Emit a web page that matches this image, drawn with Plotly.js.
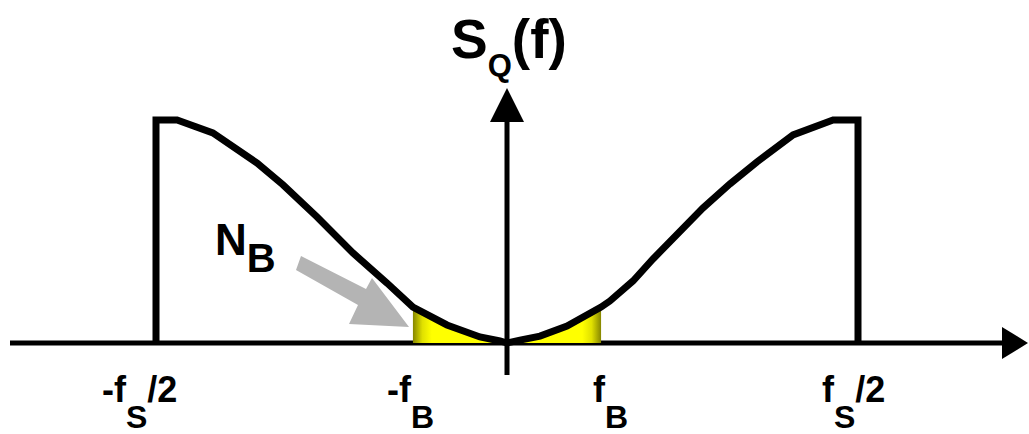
<!DOCTYPE html>
<html>
<head>
<meta charset="utf-8">
<script src="https://cdn.plot.ly/plotly-3.0.1.min.js"></script>
<style>html,body{margin:0;padding:0;background:#fff;}#chart{width:1029px;height:434px;}</style>
</head>
<body>
<div id="chart"></div>
<script>
// Frequency in units of fs/2, spectrum normalised to its peak
const curveF = [-1, -1, -0.940, -0.838, -0.712, -0.638, -0.541, -0.439, -0.342, -0.268, -0.171, -0.077, -0.020, 0,
                0.037, 0.094, 0.171, 0.245, 0.268, 0.293, 0.359, 0.416, 0.473, 0.521, 0.558, 0.635, 0.712, 0.815, 0.929, 1, 1];
const curveS = [0, 1, 1, 0.942, 0.807, 0.709, 0.565, 0.404, 0.269, 0.161, 0.081, 0.027, 0.009, 0,
                0.013, 0.031, 0.076, 0.135, 0.161, 0.188, 0.278, 0.377, 0.469, 0.552, 0.605, 0.713, 0.812, 0.933, 1, 1, 0];
const fB = 0.268;
const tickF = [-1, -fB, fB, 1];
const sub = (t, size, shift) => '<sub><span style="font-size:' + size + 'px;baseline-shift:-' + shift + 'px">' + t + '</span></sub>';
const tickLabels = ['-f' + sub('S', 32, 18) + '/2', '-f' + sub('B', 32, 18), 'f' + sub('B', 32, 18), 'f' + sub('S', 32, 18) + '/2'];
const tickShift = [-17, -2, 9, -5];
const yTitle = 'S' + sub('Q', 31, 6) + '(f)';
const bandLabel = 'N' + sub('B', 40, 8);

const W = 1029, H = 434;
const px = x => x / W;
const py = y => 1 - y / H;
const path = pts => pts.map((p, i) => (i ? 'L ' : 'M ') + px(p[0]) + ' ' + py(p[1])).join(' ') + ' Z';

const leftF = [], leftS = [], rightF = [], rightS = [];
curveF.forEach((f, i) => {
  if (f >= -fB && f <= 0) { leftF.push(f); leftS.push(curveS[i]); }
  if (f >= 0 && f <= fB) { rightF.push(f); rightS.push(curveS[i]); }
});

const font = {family: 'Liberation Sans, Arial, sans-serif', color: '#000', weight: 700};

const traces = [
  {x: leftF, y: leftS, type: 'scatter', mode: 'none', fill: 'tozeroy',
   fillgradient: {type: 'horizontal', start: -fB, stop: 0,
     colorscale: [[0, '#868600'], [0.1, '#e0e000'], [0.2, '#ffff00'], [1, '#ffff00']]},
   fillcolor: '#f0f000', hoverinfo: 'skip'},
  {x: rightF, y: rightS, type: 'scatter', mode: 'none', fill: 'tozeroy',
   fillgradient: {type: 'horizontal', start: 0, stop: fB,
     colorscale: [[0, '#ffff00'], [0.8, '#ffff00'], [0.9, '#e0e000'], [1, '#868600']]},
   fillcolor: '#f0f000', hoverinfo: 'skip'},
  {x: curveF, y: curveS, type: 'scatter', mode: 'lines',
   line: {color: '#000', width: 7}, hoverinfo: 'skip'}
];

const annotations = tickF.map((f, i) => ({
  x: f, y: py(367), xref: 'x', yref: 'paper', xshift: tickShift[i],
  text: tickLabels[i], showarrow: false, xanchor: 'center', yanchor: 'top',
  font: Object.assign({}, font, {size: 36})
}));
annotations.push({x: 0, y: py(85), xref: 'x', yref: 'paper', xshift: 2,
  text: yTitle, showarrow: false, xanchor: 'center', yanchor: 'bottom',
  font: Object.assign({}, font, {size: 55})});
annotations.push({x: px(245), y: py(282), xref: 'paper', yref: 'paper',
  text: bandLabel, showarrow: false, xanchor: 'center', yanchor: 'bottom',
  font: Object.assign({}, font, {size: 44})});

const shapes = [
  {type: 'path', xref: 'paper', yref: 'paper', layer: 'below',
   path: path([[301, 256], [366, 289], [372, 278], [409, 327], [349, 324], [358, 305], [296, 270]]),
   fillcolor: '#b4b4b4', line: {width: 0}},
  {type: 'line', xref: 'paper', yref: 'paper', layer: 'below',
   x0: px(10), x1: px(1004), y0: py(343), y1: py(343), line: {color: '#000', width: 5}},
  {type: 'path', xref: 'paper', yref: 'paper', layer: 'below',
   path: path([[1002, 327], [1028, 343], [1002, 359]]), fillcolor: '#000', line: {width: 0}},
  {type: 'line', xref: 'paper', yref: 'paper', layer: 'below',
   x0: px(507), x1: px(507), y0: py(375), y1: py(120), line: {color: '#000', width: 5}},
  {type: 'path', xref: 'paper', yref: 'paper', layer: 'below',
   path: path([[490, 122], [507, 88], [524, 122]]), fillcolor: '#000', line: {width: 0}}
];

const layout = {
  width: W, height: H, margin: {l: 0, r: 0, t: 0, b: 0},
  paper_bgcolor: '#fff', plot_bgcolor: '#fff', showlegend: false,
  xaxis: {range: [-507 / 351, 522 / 351], visible: false, fixedrange: true},
  yaxis: {range: [-91 / 223, 343 / 223], visible: false, fixedrange: true},
  shapes: shapes, annotations: annotations
};

Plotly.newPlot('chart', traces, layout, {displayModeBar: false, staticPlot: true});
</script>
</body>
</html>
